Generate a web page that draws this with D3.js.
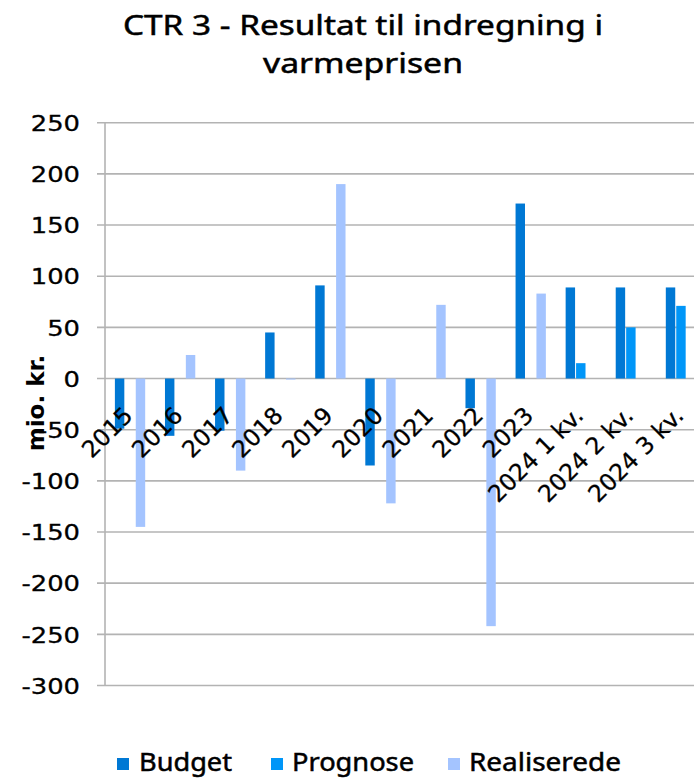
<!DOCTYPE html>
<html><head><meta charset="utf-8">
<script src="https://cdn.jsdelivr.net/npm/d3@7"></script>
<style>html,body{margin:0;padding:0;background:#fff;overflow:hidden}</style>
</head><body>
<svg id="c" width="694" height="778"></svg>
<script>
const categories = ["2015","2016","2017","2018","2019","2020","2021","2022","2023","2024 1 kv.","2024 2 kv.","2024 3 kv."];
const budget      = [-49, -56, -51, 45, 91, -85, null, -29, 171, 89, 89, 89];
const prognose    = [null, null, null, null, null, null, null, null, null, 15, 50, 71];
const realiserede = [-145, 23, -90, -1, 190, -122, 72, -242, 83, null, null, null];
const seriesNames = ["Budget","Prognose","Realiserede"];
const yTicks = [250,200,150,100,50,0,-50,-100,-150,-200,-250,-300];
const titleLines = ["CTR 3 - Resultat til indregning i","varmeprisen"];
const yTitle = "mio. kr.";

const colors = ["#0078D4","#0096F8","#A4C4FF"];
const series = [budget, prognose, realiserede];

const svg = d3.select("#c");
const pLeft = 105, pRight = 706, pTop = 122.7, pBottom = 685.5;

const y = d3.scaleLinear().domain([-300,250]).range([pBottom, pTop]);
const x0 = d3.scaleBand().domain(categories).range([pLeft,pRight]).paddingInner(0.375).paddingOuter(0.1875);
const x1 = d3.scaleBand().domain(seriesNames).range([0, x0.bandwidth()]);

// grid
svg.append("g").selectAll("line").data(yTicks).join("line")
  .attr("x1", 97).attr("x2", 694)
  .attr("y1", d => y(d)).attr("y2", d => y(d))
  .attr("stroke", "#b3b3b3").attr("stroke-width", 1.6);
svg.append("line").attr("x1", pLeft).attr("x2", pLeft).attr("y1", pTop).attr("y2", pBottom)
  .attr("stroke", "#b3b3b3").attr("stroke-width", 1.6);

// y axis labels
const ya = svg.append("g").attr("transform", `translate(${pLeft},0)`)
  .call(d3.axisLeft(y).tickValues(yTicks).tickSize(0).tickPadding(25).tickFormat(d => String(d)));
ya.select(".domain").remove();
ya.selectAll("text")
  .attr("font-family", "DejaVu Sans").attr("font-size", 21.5).attr("fill", "#000")
  .attr("stroke", "#000").attr("stroke-width", 0.3)
  .attr("x", -25/1.2).attr("dy", "0.36em")
  .attr("transform", "scale(1.2,1)");

// bars
const rows = categories.map((c, i) => ({c, vals: series.map((s, j) => ({name: seriesNames[j], v: s[i], col: colors[j]}))}));
const g = svg.append("g");
g.selectAll("g").data(rows).join("g")
  .attr("transform", d => `translate(${x0(d.c)},0)`)
  .selectAll("rect").data(d => d.vals.filter(v => v.v !== null && v.v !== 0)).join("rect")
  .attr("x", d => x1(d.name) + 0.5)
  .attr("width", x1.bandwidth() - 1)
  .attr("y", d => Math.min(y(d.v), y(0)))
  .attr("height", d => Math.max(1, Math.abs(y(d.v) - y(0))))
  .attr("fill", d => d.col);

// x labels
svg.append("g").selectAll("text").data(categories).join("text")
  .attr("transform", d => `translate(${x0(d) + x0.bandwidth()/2 + 4},417) rotate(-45)`)
  .attr("text-anchor", "end")
  .attr("font-family", "DejaVu Sans").attr("font-size", 23.5).attr("fill", "#000")
  .attr("stroke", "#000").attr("stroke-width", 0.3)
  .text(d => d);

// y title
svg.append("text").attr("transform", "translate(44,403) rotate(-90)")
  .attr("text-anchor", "middle").attr("font-family", "DejaVu Sans").attr("font-weight", "bold")
  .attr("font-size", 23).attr("fill", "#000").text(yTitle);

// title
const tl = [{t: titleLines[0], y: 35, w: 480}, {t: titleLines[1], y: 73, w: 200}];
svg.append("g").selectAll("text").data(tl).join("text")
  .attr("x", 363).attr("y", d => d.y).attr("text-anchor", "middle")
  .attr("font-family", "Noto Sans").attr("font-size", 28).attr("fill", "#000")
  .attr("stroke", "#000").attr("stroke-width", 0.5)
  .attr("textLength", d => d.w).attr("lengthAdjust", "spacingAndGlyphs")
  .text(d => d.t);

// legend
const leg = [{n: seriesNames[0], sx: 117, tx: 139, w: 93},
             {n: seriesNames[1], sx: 271, tx: 292, w: 122},
             {n: seriesNames[2], sx: 448, tx: 469, w: 152}];
const lg = svg.append("g").selectAll("g").data(leg).join("g");
lg.append("rect").attr("x", d => d.sx).attr("y", 758).attr("width", 12).attr("height", 12)
  .attr("fill", (d, i) => colors[i]);
lg.append("text").attr("x", d => d.tx).attr("y", 771)
  .attr("font-family", "Noto Sans").attr("font-size", 25).attr("fill", "#000")
  .attr("stroke", "#000").attr("stroke-width", 0.5)
  .attr("textLength", d => d.w).attr("lengthAdjust", "spacingAndGlyphs")
  .text(d => d.n);
</script>
</body></html>
